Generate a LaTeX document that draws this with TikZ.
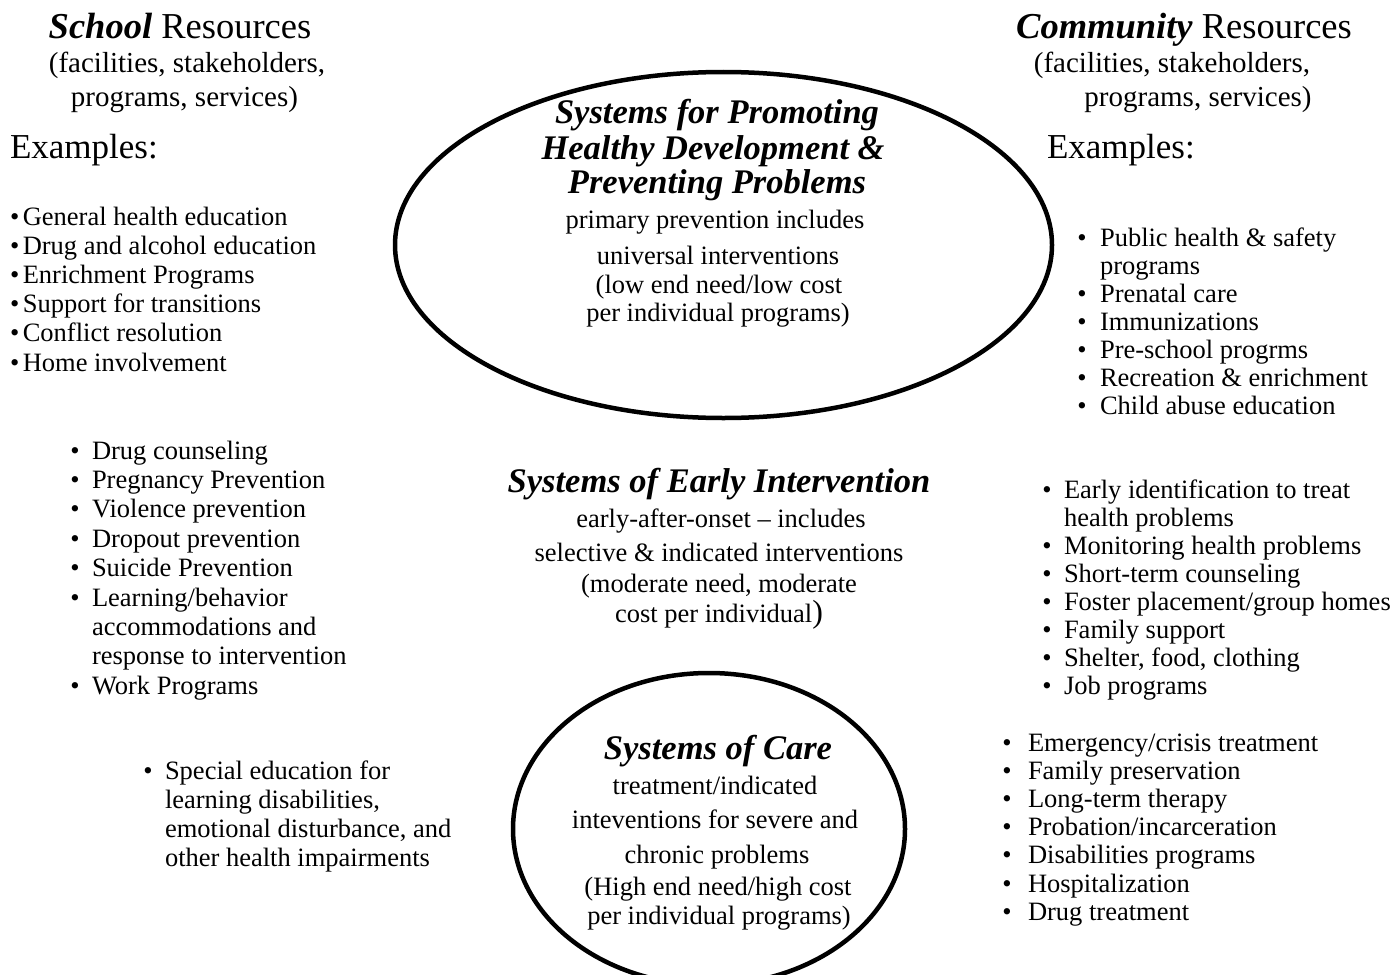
\documentclass[tikz,border=0pt]{standalone}
\usepackage{fontspec}
\setmainfont{Liberation Serif}
\usetikzlibrary{shapes.geometric}
\begin{document}
\begin{tikzpicture}[x=1pt,y=-1pt,
  every node/.style={inner sep=0pt, outer sep=0pt},
  body/.style={font=\fontsize{26.5}{29}\selectfont},
  ttl/.style={font=\fontsize{34.5}{36}\selectfont\bfseries\itshape},
  hdr/.style={font=\fontsize{36.5}{40}\selectfont},
  sub/.style={font=\fontsize{29}{32}\selectfont},
  exm/.style={font=\fontsize{35}{38}\selectfont},
  bul/.style={body, anchor=base},
  ring/.style={draw, ellipse, line width=4.5pt}]
\useasboundingbox (0,0) rectangle (1394,974);
\clip (0,0) rectangle (1394,974);

% ellipses
\node[ring, minimum width=657pt, minimum height=346pt] (top) at (723.5,245) {};
\node[ring, minimum width=392pt, minimum height=312pt] (care) at (709,829) {};

% School header
\node[hdr, anchor=base] (sh1) at (180,39) {\textbf{\textit{School}} Resources};
\node[sub, anchor=base] (sh2) at (187,72) {(facilities, stakeholders,};
\node[sub, anchor=base] (sh3) at (184.5,106) {programs, services)};
\node[exm, anchor=base west] (sex) at (10,158) {Examples:};

% Community header
\node[hdr, anchor=base] (ch1) at (1184,38) {\textbf{\textit{Community}} Resources};
\node[sub, anchor=base] (ch2) at (1172,72) {(facilities, stakeholders,};
\node[sub, anchor=base] (ch3) at (1198,106) {programs, services)};
\node[exm, anchor=base west] (cex) at (1047,158) {Examples:};

% School list 1
\foreach \t [count=\i] in {General health education, Drug and alcohol education, Enrichment Programs, Support for transitions, Conflict resolution, Home involvement}
  \node[body, anchor=base west] (sa\i) at (10,{225+29.2*(\i-1)}) {\textbullet\hspace{3.5pt}\t};

% School list 2
\foreach \t [count=\i] in {Drug counseling, Pregnancy Prevention, Violence prevention, Dropout prevention, Suicide Prevention, Learning/behavior, accommodations and, response to intervention, Work Programs}
  \node[body, anchor=base west] (sb\i) at (92,{459+29.4*(\i-1)}) {\t};
\foreach \i in {1,2,3,4,5,6,9}
  \node[bul] (sbb\i) at (75,{459+29.4*(\i-1)}) {\textbullet};

% School list 3
\foreach \t [count=\i] in {Special education for, {learning disabilities,}, {emotional disturbance, and}, other health impairments}
  \node[body, anchor=base west] (sc\i) at (165,{779+29*(\i-1)}) {\t};
\node[bul] (scb1) at (148,779) {\textbullet};

% Community list 1
\foreach \t [count=\i] in {Public health \& safety, programs, Prenatal care, Immunizations, Pre-school progrms, Recreation \& enrichment, Child abuse education}
  \node[body, anchor=base west] (ca\i) at (1100,{246+28*(\i-1)}) {\t};
\foreach \i in {1,3,4,5,6,7}
  \node[bul] (cab\i) at (1082,{246+28*(\i-1)}) {\textbullet};

% Community list 2
\foreach \t [count=\i] in {Early identification to treat, health problems, Monitoring health problems, Short-term counseling, Foster placement/group homes, Family support, {Shelter, food, clothing}, Job programs}
  \node[body, anchor=base west] (cb\i) at (1064,{498+28.1*(\i-1)}) {\t};
\foreach \i in {1,3,4,5,6,7,8}
  \node[bul] (cbb\i) at (1047,{498+28.1*(\i-1)}) {\textbullet};

% Community list 3
\foreach \t [count=\i] in {Emergency/crisis treatment, Family preservation, Long-term therapy, Probation/incarceration, Disabilities programs, Hospitalization, Drug treatment}
  {\node[body, anchor=base west] (cc\i) at (1028,{751+28.2*(\i-1)}) {\t};
   \node[bul] (ccb\i) at (1007,{751+28.2*(\i-1)}) {\textbullet};}

% Top ellipse text
\node[ttl, anchor=base] (t1) at (717,123) {Systems for Promoting};
\node[ttl, anchor=base] (t2) at (713,159) {Healthy Development \&};
\node[ttl, anchor=base] (t3) at (717,193) {Preventing Problems};
\node[body, anchor=base] (t4) at (715,228) {primary prevention includes};
\node[body, anchor=base] (t5) at (718,264) {universal interventions};
\node[body, anchor=base] (t6) at (719,293) {(low end need/low cost};
\node[body, anchor=base] (t7) at (718,321) {per individual programs)};

% Early intervention text
\node[ttl, anchor=base] (e1) at (719,492) {Systems of Early Intervention};
\node[body, anchor=base] (e2) at (721,527) {early-after-onset – includes};
\node[body, anchor=base] (e3) at (719,561) {selective \& indicated interventions};
\node[body, anchor=base] (e4) at (719,592) {(moderate need, moderate};
\node[body, anchor=base] (e5) at (719,622) {cost per individual{\fontsize{32}{32}\selectfont )}};

% Care text
\node[ttl, anchor=base] (k1) at (718,759) {Systems of Care};
\node[body, anchor=base] (k2) at (715,794) {treatment/indicated};
\node[body, anchor=base] (k3) at (715,828) {inteventions for severe and};
\node[body, anchor=base] (k4) at (717,863) {chronic problems};
\node[body, anchor=base] (k5) at (718,895) {(High end need/high cost};
\node[body, anchor=base] (k6) at (719,924) {per individual programs)};
\end{tikzpicture}
\end{document}
